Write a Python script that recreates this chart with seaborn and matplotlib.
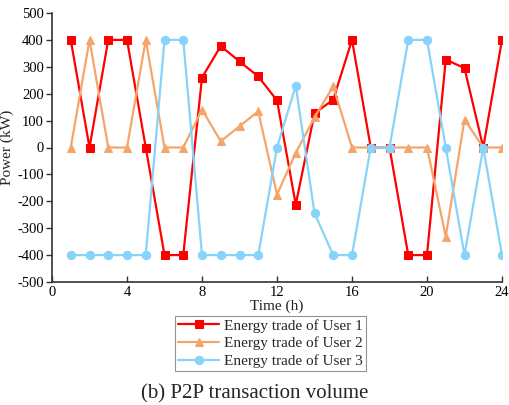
import pandas as pd
import matplotlib.pyplot as plt
import seaborn as sns

hours = list(range(1, 25))
user1 = [400, 0, 400, 400, 0, -400, -400, 260, 377, 320, 264, 175,
         -212, 127, 178, 400, 0, 0, -400, -400, 327, 295, 0, 400]
user2 = [0, 400, 0, 0, 400, 0, 0, 141, 23, 79, 134, -175,
         -20, 112, 227, 0, 0, 0, 0, 0, -331, 104, 0, 0]
user3 = [-400, -400, -400, -400, -400, 400, 400, -400, -400, -400, -400, 0,
         230, -244, -400, -400, 0, 0, 400, 400, 0, -400, 0, -400]
labels = ['Energy trade of User 1', 'Energy trade of User 2', 'Energy trade of User 3']
colors = ['#ff0000', '#f5a56a', '#87d3fa']
markers = ['s', '^', 'o']

sns.set_style('ticks')
plt.rcParams['font.family'] = ['Liberation Serif', 'DejaVu Serif']
plt.rcParams['axes.unicode_minus'] = False

fig = plt.figure(figsize=(5.09, 4.05), dpi=100)
ax = fig.add_axes([52 / 509, 1 - 282 / 405, 450 / 509, 269 / 405])

for vals, lab, c, m in zip([user1, user2, user3], labels, colors, markers):
    df = pd.DataFrame({'Time': hours, 'Power': vals})
    sns.lineplot(data=df, x='Time', y='Power', ax=ax, color=c, marker=m,
                 markersize=6, markeredgecolor=c, linewidth=1.6, label=lab)

ax.set_xlim(0, 24)
ax.set_ylim(-500, 500)
ax.set_xticks([0, 4, 8, 12, 16, 20, 24])
ax.set_yticks(range(-500, 501, 100))
ax.tick_params(labelsize=10.5, length=4, width=1, colors='#333333', labelcolor='black')
ax.tick_params(axis='x', direction='in', pad=3)
ax.tick_params(axis='y', direction='out', pad=2)
for s in ['top', 'right']:
    ax.spines[s].set_visible(False)
for s in ['left', 'bottom']:
    ax.spines[s].set_color('#333333')
    ax.spines[s].set_linewidth(1.2)
ax.set_xlabel('Time (h)', fontsize=11, labelpad=0)
ax.set_ylabel('Power (kW)', fontsize=11, labelpad=2)

leg = ax.legend(loc='upper center', bbox_to_anchor=(0.485, -0.126), fontsize=11,
                frameon=True, fancybox=False, edgecolor='#777777',
                handlelength=2.7, borderpad=0.2, labelspacing=0.25,
                handletextpad=0.3, borderaxespad=0)
leg.get_frame().set_linewidth(0.8)

fig.text(0.5, 1 - 394 / 405, '(b) P2P transaction volume', ha='center',
         va='center', fontsize=15)

fig.savefig('out.png', dpi=100)
